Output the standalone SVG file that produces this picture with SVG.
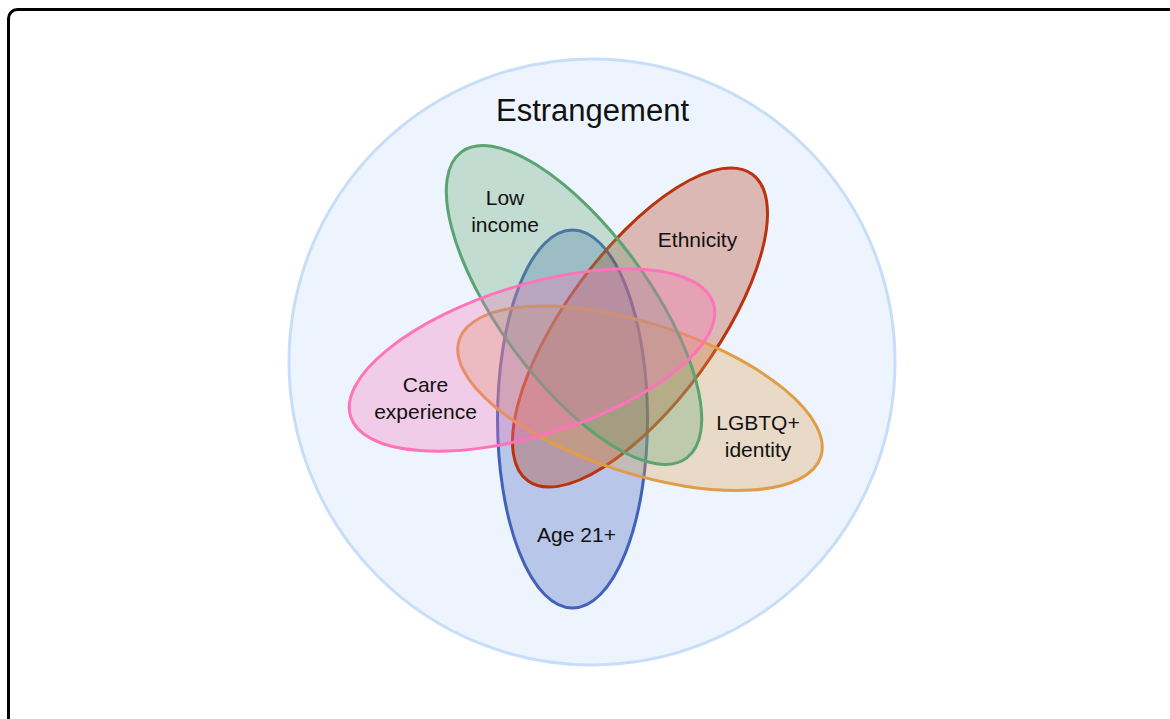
<svg xmlns="http://www.w3.org/2000/svg" width="1170" height="719" viewBox="0 0 1170 719">
  <style>
    .lbl { font-family: "Liberation Sans", Arial, Helvetica, sans-serif; font-size: 21px; fill: #111; text-anchor: middle; }
    .title { font-family: "Liberation Sans", Arial, Helvetica, sans-serif; font-size: 31px; fill: #111; text-anchor: middle; }
    .set { stroke-width: 3; fill-opacity: 0.3; }
  </style>
  <rect width="1170" height="719" fill="#ffffff"/>
  <rect x="8.5" y="9.5" width="1200" height="760" rx="9" ry="9" fill="none" stroke="#000000" stroke-width="3"/>

  <g id="estrangement">
    <circle cx="592" cy="362" r="303" fill="#EDF4FD" stroke="#C6DEF9" stroke-width="3"/>
    <text class="title" x="592.5" y="121">Estrangement</text>
  </g>

  <g id="age21">
    <ellipse class="set" cx="572.5" cy="419" rx="75" ry="189" fill="#3F61BC" stroke="#4262B9"/>
  </g>
  <g id="ethnicity">
    <ellipse class="set" cx="640" cy="327.5" rx="190" ry="75" transform="rotate(-53.8 640 327.5)" fill="#B42F0E" stroke="#B9330F"/>
  </g>
  <g id="lgbtq">
    <ellipse class="set" cx="640" cy="398.3" rx="190" ry="75" transform="rotate(17.9 640 398.3)" fill="#DDA04A" stroke="#E19C45"/>
  </g>
  <g id="lowincome">
    <ellipse class="set" cx="574" cy="305" rx="190" ry="75" transform="rotate(53.7 574 305)" fill="#5FA672" stroke="#5CA372"/>
  </g>
  <g id="care">
    <ellipse class="set" cx="532" cy="360" rx="190" ry="75" transform="rotate(-17.3 532 360)" fill="#F971BA" stroke="#FF73B9"/>
  </g>

  <g id="labels">
    <text class="lbl" x="505" y="205">Low</text>
    <text class="lbl" x="505" y="232">income</text>
    <text class="lbl" x="697.5" y="247">Ethnicity</text>
    <text class="lbl" x="425.5" y="392">Care</text>
    <text class="lbl" x="425.5" y="419">experience</text>
    <text class="lbl" x="758" y="429.5">LGBTQ+</text>
    <text class="lbl" x="758" y="456.5">identity</text>
    <text class="lbl" x="576.5" y="542">Age 21+</text>
  </g>
</svg>
